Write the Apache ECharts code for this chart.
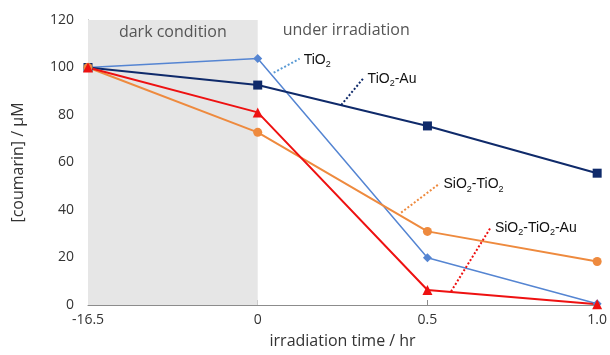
<!DOCTYPE html>
<html><head><meta charset="utf-8">
<script src="https://cdn.jsdelivr.net/npm/echarts@6/dist/echarts.min.js"></script>
<style>html,body{margin:0;padding:0;background:#fff}#c{width:610px;height:355px}</style>
</head><body><div id="c"></div>
<script>
var categories = ['-16.5', '0', '0.5', '1.0'];
var yTicks = [0, 20, 40, 60, 80, 100, 120];
var tio2 = [100, 103.8, 19.9, 0.5];
var tio2Au = [100, 92.6, 75.4, 55.5];
var sio2Tio2 = [100, 72.7, 31.0, 18.3];
var sio2Tio2Au = [100, 81.1, 6.3, 0.3];
// leader lines for labels (data coords on hidden value axis 0..3 and y axis)
var leaderTio2 = [[1.094, 97.8], [1.247, 103.7]];
var leaderTio2Au = [[1.492, 84.2], [1.624, 95.6]];
var leaderSio2Tio2 = [[1.845, 38.9], [2.071, 51.1]];
var leaderSio2Tio2Au = [[2.139, 5.7], [2.374, 32.8]];
var labelTio2 = 'TiO{s|2}';
var labelTio2Au = 'TiO{s|2}-Au';
var labelSio2Tio2 = 'SiO{s|2}-TiO{s|2}';
var labelSio2Tio2Au = 'SiO{s|2}-TiO{s|2}-Au';

var FONT = '"Open Sans", sans-serif';
var LFONT = '"Liberation Sans", Arial, sans-serif';
var chart = echarts.init(document.getElementById('c'));

function mainSeries(name, data, color, symbol, size, width) {
  return {
    name: name, type: 'line', data: data, xAxisIndex: 0,
    symbol: symbol, symbolSize: size,
    lineStyle: {color: color, width: width},
    itemStyle: {color: color},
    z: 3
  };
}
function leader(data, color) {
  return {
    type: 'line', xAxisIndex: 1, data: data,
    symbol: 'none', lineStyle: {color: color, width: 2, type: [2, 2]},
    silent: true, z: 4
  };
}

chart.setOption({
  animation: false,
  grid: {left: 88, right: 12, top: 20, bottom: 50},
  xAxis: [{
    type: 'category', data: categories, boundaryGap: false,
    axisLine: {lineStyle: {color: '#8c8c8c', width: 1}},
    axisTick: {inside: true, length: 5, lineStyle: {color: '#8c8c8c'}},
    axisLabel: {color: '#333', fontSize: 14, fontFamily: FONT, margin: 8},
    name: 'irradiation time / hr', nameLocation: 'middle', nameGap: 28,
    nameTextStyle: {color: '#333', fontSize: 16, fontFamily: FONT}
  }, {
    type: 'value', min: 0, max: 3, show: false
  }],
  yAxis: {
    type: 'value', min: 0, max: 120, interval: 20,
    axisLine: {show: true, lineStyle: {color: '#8c8c8c', width: 1}},
    axisTick: {show: true, inside: true, length: 4, lineStyle: {color: '#8c8c8c'}},
    splitLine: {show: false},
    axisLabel: {color: '#333', fontSize: 14, fontFamily: FONT, margin: 14,
      formatter: function (v) { return yTicks.indexOf(v) >= 0 ? String(v) : ''; }},
    name: '[coumarin] / μM', nameLocation: 'middle', nameGap: 62,
    nameTextStyle: {color: '#333', fontSize: 16, fontFamily: FONT}
  },
  series: [
    {
      type: 'line', data: [], xAxisIndex: 0, silent: true,
      markArea: {
        silent: true,
        itemStyle: {color: '#e6e6e6'},
        label: {show: true, position: 'insideTop', distance: 4, color: '#555', fontSize: 16, fontFamily: FONT},
        data: [[{name: 'dark condition', xAxis: '-16.5'}, {xAxis: '0'}]]
      },
      z: 1
    },
    mainSeries('TiO2', tio2, '#5585d2', 'diamond', 9, 1.5),
    mainSeries('TiO2-Au', tio2Au, '#0f2a6a', 'rect', 9, 2),
    mainSeries('SiO2-TiO2', sio2Tio2, '#ee8a3e', 'circle', 9, 2),
    mainSeries('SiO2-TiO2-Au', sio2Tio2Au, '#ee1111', 'triangle', 10, 2),
    leader(leaderTio2, '#5b9bd5'),
    leader(leaderTio2Au, '#0f2a6a'),
    leader(leaderSio2Tio2, '#ee8a3e'),
    leader(leaderSio2Tio2Au, '#ee1111')
  ]
});

function px(pt) { return chart.convertToPixel({xAxisIndex: 1, yAxisIndex: 0}, pt); }
function labelAt(leaderData, text) {
  var e = px(leaderData[1]);
  return {
    type: 'text', x: e[0] + 4, y: e[1] + 1, z: 10,
    style: {
      text: text, fill: '#111', fontSize: 14, fontFamily: LFONT,
      verticalAlign: 'middle', align: 'left',
      rich: {s: {fontSize: 9, fontFamily: LFONT, fill: '#111', padding: [9, 0, 0, 0]}}
    }
  };
}
var p = px([1.0, 120]);
chart.setOption({
  graphic: [
    {type: 'text', x: p[0] + 25, y: p[1] + 2,
      style: {text: 'under irradiation', fill: '#555', fontSize: 16, fontFamily: FONT}},
    labelAt(leaderTio2, labelTio2),
    labelAt(leaderTio2Au, labelTio2Au),
    labelAt(leaderSio2Tio2, labelSio2Tio2),
    labelAt(leaderSio2Tio2Au, labelSio2Tio2Au)
  ]
});
</script></body></html>
